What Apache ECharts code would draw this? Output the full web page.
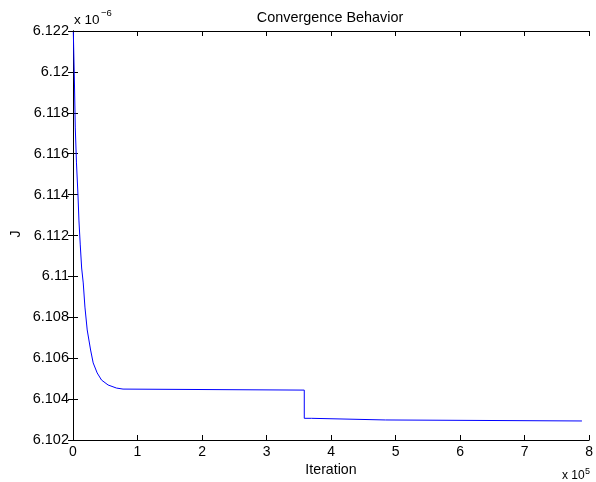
<!DOCTYPE html>
<html><head><meta charset="utf-8">
<script src="https://cdn.jsdelivr.net/npm/echarts@6/dist/echarts.min.js"></script>
<style>html,body{margin:0;padding:0;background:#fff}#c{width:596px;height:482px}</style>
</head><body><div id="c"></div>
<script>
// Iterations (raw) and J values (in units of 1e-6)
const iterations = [500, 2310, 3550, 5390, 7710, 9250, 11250, 13410, 15880, 18500, 22040, 27280, 31290, 37460, 44250, 54410, 67360, 77530, 80150, 358500, 358500, 370000, 370000, 484300, 484300, 788900];
const jValues    = [6.12195, 6.11936, 6.11726, 6.11555, 6.11398, 6.11271, 6.11154, 6.11041, 6.10968, 6.1085, 6.10738, 6.1064, 6.10577, 6.10528, 6.10493, 6.10469, 6.10454, 6.10449, 6.10444, 6.10444, 6.10306, 6.10306, 6.10298, 6.10298, 6.10293, 6.10293];
const xTickLabels = ['0','1','2','3','4','5','6','7','8'];
const titleText = 'Convergence Behavior';
const xName = 'Iteration';
const yName = 'J';

const FONT = 'Liberation Sans, Arial, Helvetica, sans-serif';
const chart = echarts.init(document.getElementById('c'), null, {renderer: 'canvas'});
const axisCommon = {
  axisLine: {show: true, lineStyle: {color: '#000', width: 1}},
  axisTick: {show: true, inside: true, length: 5, lineStyle: {color: '#000', width: 1}},
  splitLine: {show: false}
};
chart.setOption({
  animation: false,
  backgroundColor: '#fff',
  grid: {left: 73, right: 4, top: 31, bottom: 42},
  xAxis: [
    Object.assign({type: 'value', min: 0, max: 800000, interval: 100000, position: 'bottom',
      axisLabel: {color: '#000', fontFamily: FONT, fontSize: 14, margin: 5,
        formatter: v => xTickLabels[Math.round(v / 100000)]}}, axisCommon),
    Object.assign({type: 'value', min: 0, max: 800000, interval: 100000, position: 'top',
      axisLabel: {show: false}}, axisCommon)
  ],
  yAxis: [
    Object.assign({type: 'value', min: 6.102, max: 6.122, interval: 0.002, position: 'left',
      axisLabel: {color: '#000', fontFamily: FONT, fontSize: 14.5, margin: 4,
        formatter: v => String(parseFloat(v.toFixed(3)))}}, axisCommon),
    Object.assign({type: 'value', min: 6.102, max: 6.122, interval: 0.002, position: 'right',
      axisLabel: {show: false}}, axisCommon)
  ],
  series: [{
    type: 'line', showSymbol: false, clip: true,
    data: iterations.map((x, i) => [x, jValues[i]]),
    lineStyle: {color: '#0000ff', width: 1},
    itemStyle: {color: '#0000ff'}
  }],
  graphic: [
    {type: 'text', x: 330, y: 18, style: {text: titleText, fontFamily: FONT, fontSize: 14.4, fill: '#000', align: 'center', verticalAlign: 'middle'}},
    {type: 'text', x: 74, y: 20, style: {text: 'x 10', fontFamily: FONT, fontSize: 13.5, fill: '#000', align: 'left', verticalAlign: 'middle'}},
    {type: 'text', x: 101, y: 13, style: {text: '−6', fontFamily: FONT, fontSize: 9.5, fill: '#000', align: 'left', verticalAlign: 'middle'}},
    {type: 'text', x: 562, y: 476, style: {text: 'x 10', fontFamily: FONT, fontSize: 12, fill: '#000', align: 'left', verticalAlign: 'middle'}},
    {type: 'text', x: 585, y: 472, style: {text: '5', fontFamily: FONT, fontSize: 9, fill: '#000', align: 'left', verticalAlign: 'middle'}},
    {type: 'text', x: 331, y: 470, style: {text: xName, fontFamily: FONT, fontSize: 14.2, fill: '#000', align: 'center', verticalAlign: 'middle'}},
    {type: 'text', x: 16, y: 234, rotation: Math.PI / 2, style: {text: yName, fontFamily: FONT, fontSize: 14, fill: '#000', align: 'center', verticalAlign: 'middle'}}
  ]
});
</script></body></html>
